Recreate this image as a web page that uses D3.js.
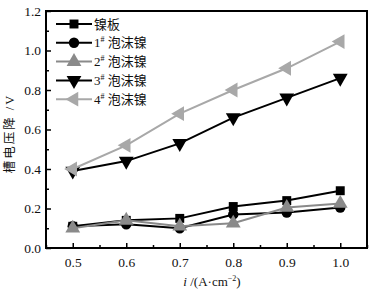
<!DOCTYPE html>
<html>
<head>
<meta charset="utf-8">
<script src="https://cdn.jsdelivr.net/npm/d3@7"></script>
<style>
  body { margin: 0; background: #fff; }
  text { font-family: "Liberation Serif", "Noto Sans CJK SC", serif; fill: #111; }
</style>
</head>
<body>
<svg id="chart"></svg>
<script>
// current density, A/cm2
const currents = [0.5, 0.6, 0.7, 0.8, 0.9, 1.0];

// cell voltage drop, V
const niPlate = [0.11, 0.14, 0.15, 0.21, 0.24, 0.29];
const foam1 = [0.11, 0.12, 0.10, 0.17, 0.18, 0.205];
const foam2 = [0.10, 0.14, 0.11, 0.125, 0.205, 0.225];
const foam3 = [0.39, 0.44, 0.53, 0.66, 0.76, 0.86];
const foam4 = [0.40, 0.52, 0.68, 0.80, 0.91, 1.045];

const seriesNames = ["镍板", "1", "2", "3", "4"];
const xTicks = [0.5, 0.6, 0.7, 0.8, 0.9, 1.0];
const yTicks = [0.0, 0.2, 0.4, 0.6, 0.8, 1.0, 1.2];

const width = 379, height = 291;
const margin = {top: 11, right: 12, bottom: 43, left: 46};

const svg = d3.select("#chart")
    .attr("width", width)
    .attr("height", height);

const x = d3.scaleLinear().domain([0.45, 1.05]).range([margin.left, width - margin.right]);
const y = d3.scaleLinear().domain([0, 1.2]).range([height - margin.bottom, margin.top]);

const styles = [
    {data: niPlate, color: "#000", sym: d3.symbolSquare, size: 80, rot: 0},
    {data: foam1, color: "#000", sym: d3.symbolCircle, size: 85, rot: 0},
    {data: foam2, color: "#8a8a8a", sym: d3.symbolTriangle, size: 95, rot: 0},
    {data: foam3, color: "#000", sym: d3.symbolTriangle, size: 95, rot: 180},
    {data: foam4, color: "#a8a8a8", sym: d3.symbolTriangle, size: 95, rot: -90}
];

// axes with inward ticks
const minorX = d3.range(0.45, 1.06, 0.05).map(v => +v.toFixed(2)).filter(v => !xTicks.includes(v));
const minorY = d3.range(0.1, 1.2, 0.2).map(v => +v.toFixed(2));

svg.append("g")
    .attr("transform", `translate(0,${y(0)})`)
    .call(d3.axisBottom(x).tickValues(xTicks).tickSize(-5).tickPadding(9).tickFormat(d3.format(".1f")))
    .call(g => g.select(".domain").remove())
    .call(g => g.selectAll("line").attr("stroke", "#000").attr("stroke-width", 1.5))
    .call(g => g.selectAll("text").attr("font-size", 13.5).attr("fill", "#111"));

svg.append("g")
    .attr("transform", `translate(0,${y(0)})`)
    .call(d3.axisBottom(x).tickValues(minorX).tickSize(-3).tickFormat(""))
    .call(g => g.select(".domain").remove())
    .call(g => g.selectAll("line").attr("stroke", "#000").attr("stroke-width", 1.5));

svg.append("g")
    .attr("transform", `translate(${x(0.45)},0)`)
    .call(d3.axisLeft(y).tickValues(yTicks).tickSize(-5).tickPadding(5).tickFormat(d3.format(".1f")))
    .call(g => g.select(".domain").remove())
    .call(g => g.selectAll("line").attr("stroke", "#000").attr("stroke-width", 1.5))
    .call(g => g.selectAll("text").attr("font-size", 13.5).attr("fill", "#111"));

svg.append("g")
    .attr("transform", `translate(${x(0.45)},0)`)
    .call(d3.axisLeft(y).tickValues(minorY).tickSize(-3).tickFormat(""))
    .call(g => g.select(".domain").remove())
    .call(g => g.selectAll("line").attr("stroke", "#000").attr("stroke-width", 1.5));

// frame
svg.append("rect")
    .attr("x", x(0.45)).attr("y", y(1.2))
    .attr("width", x(1.05) - x(0.45)).attr("height", y(0) - y(1.2))
    .attr("fill", "none").attr("stroke", "#000").attr("stroke-width", 2);

// series
const line = d3.line().x((d, i) => x(currents[i])).y(d => y(d));

styles.forEach(s => {
    svg.append("path")
        .datum(s.data)
        .attr("d", line)
        .attr("fill", "none")
        .attr("stroke", s.color)
        .attr("stroke-width", 2);
    svg.selectAll(null)
        .data(s.data)
        .join("path")
        .attr("d", d3.symbol(s.sym, s.size))
        .attr("transform", (d, i) => `translate(${x(currents[i])},${y(d)}) rotate(${s.rot})`)
        .attr("fill", s.color);
});

// legend
const legend = svg.append("g");
styles.forEach((s, i) => {
    const ly = 24 + i * 18.8;
    legend.append("line")
        .attr("x1", 56).attr("x2", 92).attr("y1", ly).attr("y2", ly)
        .attr("stroke", s.color).attr("stroke-width", 2);
    legend.append("path")
        .attr("d", d3.symbol(s.sym, s.size))
        .attr("transform", `translate(74,${ly}) rotate(${s.rot})`)
        .attr("fill", s.color);
    const t = legend.append("text")
        .attr("x", 94).attr("y", ly + 4.5)
        .attr("font-size", 13);
    if (i === 0) {
        t.text(seriesNames[i]);
    } else {
        t.append("tspan").text(seriesNames[i]);
        t.append("tspan").attr("font-size", 8).attr("dy", -5).text("#");
        t.append("tspan").attr("dy", 5).text(" 泡沫镍");
    }
});

// axis titles
svg.append("text")
    .attr("transform", `translate(14,${(y(0) + y(1.2)) / 2 + 4}) rotate(-90)`)
    .attr("text-anchor", "middle")
    .attr("font-size", 12.5)
    .attr("letter-spacing", 2)
    .text("槽电压降 /V");

const xl = svg.append("text")
    .attr("x", 212).attr("y", 286)
    .attr("text-anchor", "middle")
    .attr("font-size", 13);
xl.append("tspan").attr("font-style", "italic").text("i");
xl.append("tspan").text(" /(A·cm");
xl.append("tspan").attr("font-size", 8).attr("dy", -5).text("−2");
xl.append("tspan").attr("dy", 5).text(")");
</script>
</body>
</html>
